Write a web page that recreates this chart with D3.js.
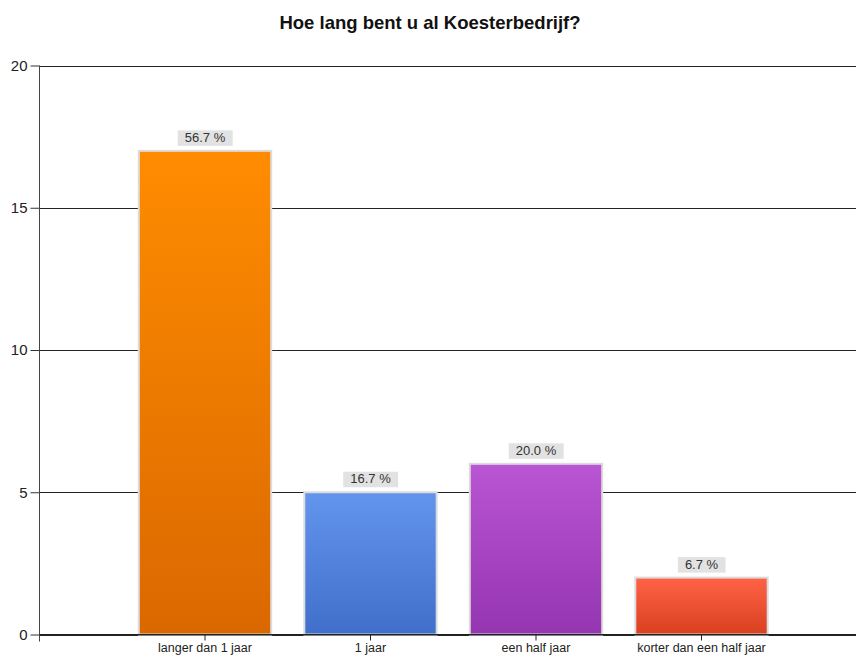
<!DOCTYPE html>
<html><head><meta charset="utf-8">
<script src="https://cdn.jsdelivr.net/npm/d3@7"></script>
<style>body{margin:0;background:#fff}svg{display:block}text{font-family:"Liberation Sans",Arial,sans-serif}</style>
</head><body>
<script>
const title = "Hoe lang bent u al Koesterbedrijf?";
const categories = ["langer dan 1 jaar", "1 jaar", "een half jaar", "korter dan een half jaar"];
const values = [17, 5, 6, 2];
const percentLabels = ["56.7 %", "16.7 %", "20.0 %", "6.7 %"];
const yTicks = [0, 5, 10, 15, 20];
const colorsTop = ["#ff8c00", "#6495ed", "#ba55d3", "#ff6347"];
const colorsBottom = ["#da6800", "#3f6fca", "#9535b0", "#d8401f"];

const W = 856, H = 657;
const x0 = 39.5, x1 = 867, yTop = 65.5, yBot = 634.5;
const svg = d3.select("body").append("svg").attr("width", W).attr("height", H);

const defs = svg.append("defs");
categories.forEach((c, i) => {
  const g = defs.append("linearGradient").attr("id", "g" + i).attr("x1", 0).attr("y1", 0).attr("x2", 0).attr("y2", 1);
  g.append("stop").attr("offset", "0%").attr("stop-color", colorsTop[i]);
  g.append("stop").attr("offset", "100%").attr("stop-color", colorsBottom[i]);
});

const step = (x1 - x0) / 5;
const x = d3.scaleBand().domain(categories)
  .range([x0 + step / 2, x1 - step / 2]).paddingInner(0.2).paddingOuter(0.1);
const y = d3.scaleLinear().domain([0, 20]).range([yBot, yTop]);

svg.append("text").attr("x", 430).attr("y", 29).attr("text-anchor", "middle")
  .attr("font-size", 18.5).attr("font-weight", "bold").attr("fill", "#111").text(title);

// gridlines
svg.append("g").selectAll("line").data(yTicks).join("line")
  .attr("x1", x0).attr("x2", x1).attr("y1", d => Math.round(y(d)) + 0.5).attr("y2", d => Math.round(y(d)) + 0.5)
  .attr("stroke", "#222").attr("stroke-width", 1);

// y axis
const yAxis = svg.append("g").attr("transform", `translate(${x0},0)`)
  .call(d3.axisLeft(y).tickValues(yTicks).tickSize(9).tickPadding(3));
yAxis.select(".domain").remove();
yAxis.selectAll("line").attr("stroke", "#333");
yAxis.selectAll("text").attr("font-size", 15).attr("fill", "#222").attr("font-family", "Liberation Sans, Arial, sans-serif");
svg.append("line").attr("x1", x0).attr("x2", x0).attr("y1", yTop).attr("y2", yBot + 7).attr("stroke", "#444");

// bars
const bars = svg.append("g");
bars.selectAll("rect").data(values).join("rect")
  .attr("x", (d, i) => x(categories[i]))
  .attr("y", d => y(d))
  .attr("width", x.bandwidth())
  .attr("height", d => yBot - y(d))
  .attr("fill", (d, i) => `url(#g${i})`)
  .attr("stroke", "#dcdcdc").attr("stroke-width", 2);

// labels
const lab = svg.append("g");
values.forEach((v, i) => {
  const cx = x(categories[i]) + x.bandwidth() / 2;
  const t = lab.append("text").attr("x", cx).attr("y", y(v) - 9).attr("text-anchor", "middle")
    .attr("font-size", 13).attr("fill", "#333").text(percentLabels[i]);
  const bb = t.node().getBBox();
  lab.insert("rect", "text").attr("x", bb.x - 7).attr("y", y(v) - 20.5).attr("width", bb.width + 14).attr("height", 15.5)
    .attr("fill", "#e2e2e2");
});

// x axis
const xAxis = svg.append("g").attr("transform", `translate(0,${yBot})`)
  .call(d3.axisBottom(x).tickSize(6).tickPadding(3).tickSizeOuter(0));
xAxis.select(".domain").remove();
xAxis.selectAll("line").attr("stroke", "#222");
xAxis.selectAll("text").attr("font-size", 12.5).attr("fill", "#222").attr("font-family", "Liberation Sans, Arial, sans-serif");
svg.append("line").attr("x1", x0).attr("x2", x1).attr("y1", yBot).attr("y2", yBot).attr("stroke", "#222");
</script>
</body></html>
